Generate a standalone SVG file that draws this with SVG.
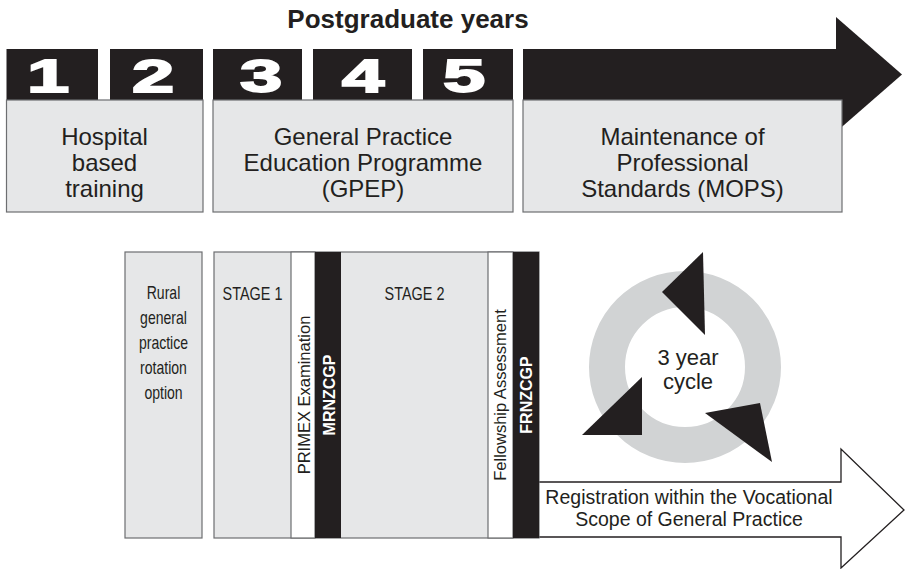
<svg xmlns="http://www.w3.org/2000/svg" width="905" height="569" viewBox="0 0 905 569">
<style>
.blk{fill:#231f20}
.box{fill:#e6e7e8;stroke:#6d6e71;stroke-width:1.2}
.wht{fill:#ffffff}
.t{font-family:"Liberation Sans",Arial,sans-serif;fill:#231f20}
.top{font-size:24px;text-anchor:middle}
.dig{font-family:"Liberation Sans",Arial,sans-serif;font-weight:bold;font-size:46px;fill:#fff;stroke:#fff;stroke-width:1.8;text-anchor:middle}
.cond{font-size:18px;text-anchor:middle}
.vert{font-size:16.5px;text-anchor:middle}
.vw{font-family:"Liberation Sans",Arial,sans-serif;font-size:16px;font-weight:bold;fill:#fff;text-anchor:middle}
</style>
<rect width="905" height="569" fill="#fff"/>
<text class="t" x="408" y="28" font-size="26" font-weight="bold" text-anchor="middle">Postgraduate years</text>

<g id="year-arrow">
<polygon class="blk" points="836,17 902,74.5 836,132"/>
<rect class="blk" x="523" y="49" width="314" height="51"/>
</g>

<g id="hospital">
<rect class="blk" x="6.5" y="49" width="196.5" height="51"/>
<rect class="wht" x="98" y="49" width="12" height="51"/>
<text class="dig" transform="translate(48,92) scale(1.65,1)">1</text>
<text class="dig" transform="translate(153,92) scale(1.65,1)">2</text>
<rect class="box" x="6.5" y="100" width="196.5" height="112"/>
<text class="t top" x="104.5" y="145">Hospital</text>
<text class="t top" x="104.5" y="171">based</text>
<text class="t top" x="104.5" y="197">training</text>
</g>

<g id="gpep">
<rect class="blk" x="213" y="49" width="300" height="51"/>
<rect class="wht" x="302" y="49" width="11" height="51"/>
<rect class="wht" x="412" y="49" width="11" height="51"/>
<text class="dig" transform="translate(261,92) scale(1.65,1)">3</text>
<text class="dig" transform="translate(363,92) scale(1.65,1)">4</text>
<text class="dig" transform="translate(464,92) scale(1.65,1)">5</text>
<rect class="box" x="213" y="100" width="300" height="112"/>
<text class="t top" x="363" y="145">General Practice</text>
<text class="t top" x="363" y="171">Education Programme</text>
<text class="t top" x="363" y="197">(GPEP)</text>
</g>

<g id="mops">
<rect class="box" x="523" y="100" width="319" height="112"/>
<text class="t top" x="682.5" y="145">Maintenance of</text>
<text class="t top" x="682.5" y="171">Professional</text>
<text class="t top" x="682.5" y="197">Standards (MOPS)</text>
</g>

<g id="rural">
<rect class="box" x="125" y="252" width="77" height="286"/>
<text class="t cond" transform="translate(163.5,299) scale(0.78,1)">Rural</text>
<text class="t cond" transform="translate(163.5,324) scale(0.78,1)">general</text>
<text class="t cond" transform="translate(163.5,349) scale(0.78,1)">practice</text>
<text class="t cond" transform="translate(163.5,374) scale(0.78,1)">rotation</text>
<text class="t cond" transform="translate(163.5,399) scale(0.78,1)">option</text>
</g>

<g id="connectors">
<path d="M530,482 H841 V449 L904,510 L841,568 V537 H530" fill="#fff" stroke="#231f20" stroke-width="1.3"/>
</g>

<g id="stages">
<rect class="box" x="214" y="252" width="325" height="286"/>
<rect x="291" y="252" width="24" height="286" fill="#fff" stroke="#6d6e71" stroke-width="1.2"/>
<rect class="blk" x="315" y="252" width="26" height="286"/>
<rect x="488" y="252" width="25" height="286" fill="#fff" stroke="#6d6e71" stroke-width="1.2"/>
<rect class="blk" x="513" y="252" width="26" height="286"/>
<text class="t" font-size="18.5" text-anchor="middle" transform="translate(252.5,300) scale(0.78,1)">STAGE 1</text>
<text class="t" font-size="18.5" text-anchor="middle" transform="translate(414.5,300) scale(0.78,1)">STAGE 2</text>
<text class="t vert" transform="translate(310,395) rotate(-90)">PRIMEX Examination</text>
<text class="vw" transform="translate(335,395) rotate(-90)">MRNZCGP</text>
<text class="t vert" transform="translate(506,395) rotate(-90)">Fellowship Assessment</text>
<text class="vw" transform="translate(532,395) rotate(-90)">FRNZCGP</text>
</g>

<g id="registration">
<text class="t" font-size="19.5" text-anchor="middle" x="689" y="504">Registration within the Vocational</text>
<text class="t" font-size="19.5" text-anchor="middle" x="689" y="526">Scope of General Practice</text>
</g>

<g id="cycle">
<circle cx="685" cy="367" r="78" fill="none" stroke="#d1d3d4" stroke-width="36"/>
<polygon class="blk" points="703,252 662,292 705,335"/>
<polygon class="blk" points="642,377 582,435 642,435"/>
<polygon class="blk" points="705,413 760,403 772,462"/>
<text class="t" font-size="22" text-anchor="middle" x="688" y="365">3 year</text>
<text class="t" font-size="22" text-anchor="middle" x="688" y="389">cycle</text>
</g>
</svg>
